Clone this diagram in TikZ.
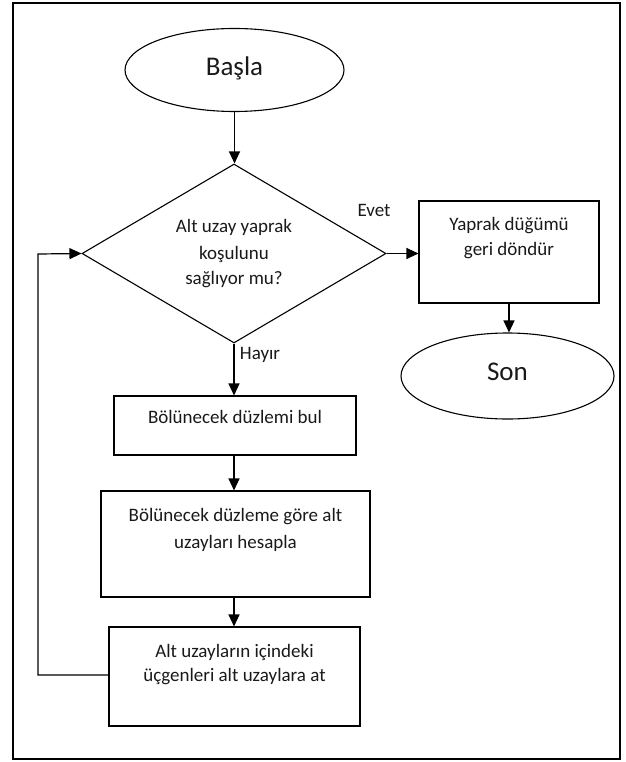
\documentclass[tikz,border=0pt]{standalone}
\usepackage{fontspec}
\setmainfont{Carlito}
\usetikzlibrary{shapes.geometric,arrows.meta}
\tikzset{
  shp/.style={draw=black, line width=1.1pt, inner sep=0pt},
  boxnode/.style={shp, rectangle},
  ovalnode/.style={shp, ellipse},
  decnode/.style={shp, diamond},
  txt/.style={font=\fontsize{19}{23}\selectfont, text=black!90, inner sep=0pt},
  bigtxt/.style={font=\fontsize{27}{31}\selectfont, text=black!90, inner sep=0pt},
  arr/.style={line width=1.2pt, -{Triangle[length=12pt,width=11pt]}},
  lnk/.style={line width=1.1pt}
}
\begin{document}
\begin{tikzpicture}[x=1pt,y=-1pt]
\useasboundingbox (0,0) rectangle (625,762);
\draw[line width=2pt] (13,3) rectangle (620,759);

\node[ovalnode, minimum width=219pt, minimum height=83pt] (start) at (234.5,70) {};
\node[bigtxt] (startT) at (234.5,68) {Başla};

\node[decnode, minimum width=304pt, minimum height=179pt] (dec) at (234,253.5) {};
\node[txt] (decT1) at (234,227) {Alt uzay yaprak};
\node[txt] (decT2) at (234,254) {koşulunu};
\node[txt] (decT3) at (234,280) {sağlıyor mu?};

\node[txt] (evet) at (374,210) {Evet};
\node[txt] (hayir) at (260,355) {Hayır};

\node[boxnode, minimum width=180pt, minimum height=102pt] (leaf) at (509,252) {};
\node[txt] (leafT1) at (509,226) {Yaprak düğümü};
\node[txt] (leafT2) at (509,251) {geri döndür};

\node[ovalnode, minimum width=213pt, minimum height=86pt] (son) at (507.5,376) {};
\node[bigtxt] (sonT) at (507.5,372) {Son};

\node[boxnode, minimum width=242pt, minimum height=59pt] (r1) at (235,425.5) {};
\node[txt] (r1T) at (235,417) {Bölünecek düzlemi bul};

\node[boxnode, minimum width=269pt, minimum height=106pt] (r2) at (235.5,544) {};
\node[txt] (r2T1) at (235.5,517) {Bölünecek düzleme göre alt};
\node[txt] (r2T2) at (235.5,543) {uzayları hesapla};

\node[boxnode, minimum width=251pt, minimum height=99pt] (r3) at (234.5,676.5) {};
\node[txt] (r3T1) at (234.5,652) {Alt uzayların içindeki};
\node[txt] (r3T2) at (234.5,677) {üçgenleri alt uzaylara at};

\coordinate (loopA) at (38,675);
\coordinate (loopB) at (38,254);

\draw[arr] (start.south) -- (start.south |- dec.north);
\draw[arr] (dec.east) -- (dec.east -| leaf.west);
\draw[arr] (leaf.south) -- (leaf.south |- son.north);
\draw[arr] (dec.south) -- (dec.south |- r1.north);
\draw[arr] (r1.south -| dec.south) -- (dec.south |- r2.north);
\draw[arr] (r2.south -| dec.south) -- (dec.south |- r3.north);
\draw[arr] (r3.west |- loopA) -- (loopA) -- (loopB) -- (dec.west);
\end{tikzpicture}
\end{document}
